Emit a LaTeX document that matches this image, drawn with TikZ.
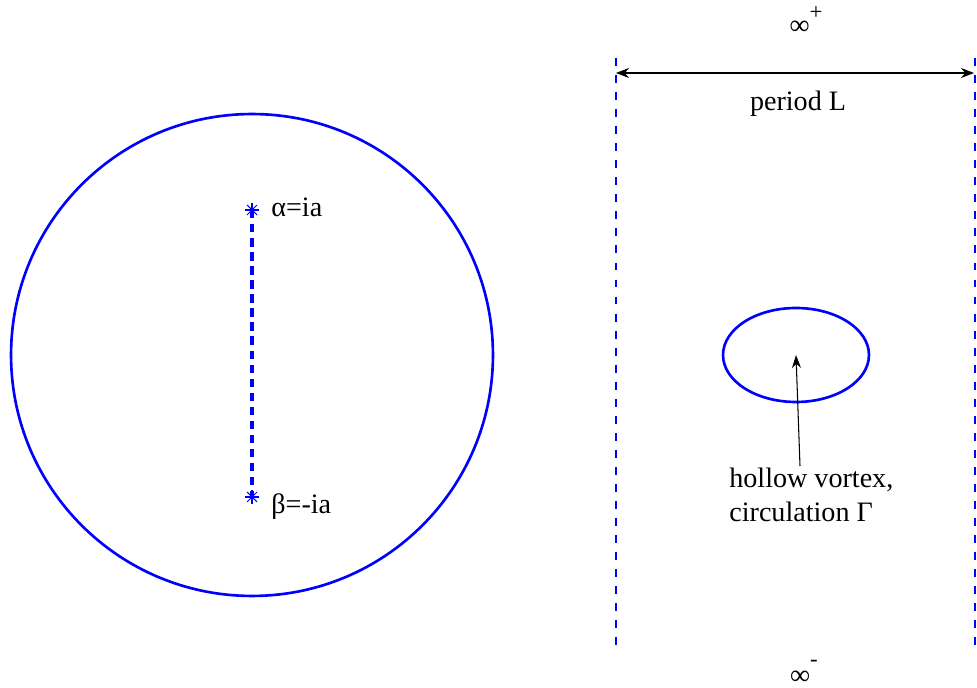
\documentclass[tikz,border=0pt]{standalone}
\usepackage{fontspec}
\setmainfont{Liberation Serif}
\usetikzlibrary{positioning,arrows.meta,shapes.geometric}
\tikzset{
  bluecurve/.style={draw=blue, line width=1.5pt},
  wallline/.style={blue, line width=1.3pt, dash pattern=on 4.5pt off 5.2pt},
  cutline/.style={blue, line width=2.6pt, dash pattern=on 4.8pt off 3.2pt},
  starline/.style={blue, line width=0.6pt},
  dimarrow/.style={{Stealth[length=2.6mm, width=2mm]}-{Stealth[length=2.6mm, width=2mm]}, line width=0.6pt},
  notearrow/.style={-{Stealth[length=2.6mm, width=1.8mm]}, line width=0.6pt},
  txt/.style={font=\fontsize{16}{19.3}\selectfont, inner sep=0pt}
}

\begin{document}
\begin{tikzpicture}[x=0.02cm, y=-0.02cm]
  \useasboundingbox (0,0) rectangle (977,688);
  % left plane: disk with cut
  \node[circle, bluecurve, minimum size=9.64cm, inner sep=0pt] (disk) at (252,355) {};
  \coordinate (alpha) at (252,210);
  \coordinate (beta) at (252,497);
  \draw[cutline] (alpha) -- (beta);
  \foreach \pt in {alpha, beta}
    \foreach \ang in {0,45,90,135}
      \draw[starline] (\pt) +(\ang:7) -- +(\ang+180:7);
  \node[txt, anchor=base west] (alphalbl) at (271,217) {α=ia};
  \node[txt, anchor=base west] (betalbl) at (271,514) {β=-ia};

  % right plane: periodic strip
  \coordinate (wallLtop) at (616,58);
  \coordinate (wallLbot) at (616,652);
  \coordinate (wallRtop) at (975,58);
  \coordinate (wallRbot) at (975,652);
  \draw[wallline] (wallLtop) -- (wallLbot);
  \draw[wallline] (wallRtop) -- (wallRbot);
  \coordinate (perL) at (616,73);
  \coordinate (perR) at (974,73);
  \draw[dimarrow] (perL) -- (perR);
  \node[txt, anchor=base] (period) at (798,111) {period L};
  \node[txt, anchor=base] (infplus) at (806,35) {∞\raisebox{9pt}{\fontsize{13}{14}\selectfont +}};
  \node[txt, anchor=base] (infminus) at (804,684) {∞\raisebox{10pt}{\fontsize{13}{14}\selectfont -}};

  % hollow vortex
  \node[ellipse, bluecurve, minimum width=2.92cm, minimum height=1.88cm, inner sep=0pt] (vortex) at (796,355) {};
  \node[txt, align=left, anchor=north west] (vortexlbl) at (729,468) {hollow vortex,\\circulation Γ};
  \coordinate (tail) at (800,466);
  \draw[notearrow] (tail) -- (vortex.center);
\end{tikzpicture}
\end{document}
